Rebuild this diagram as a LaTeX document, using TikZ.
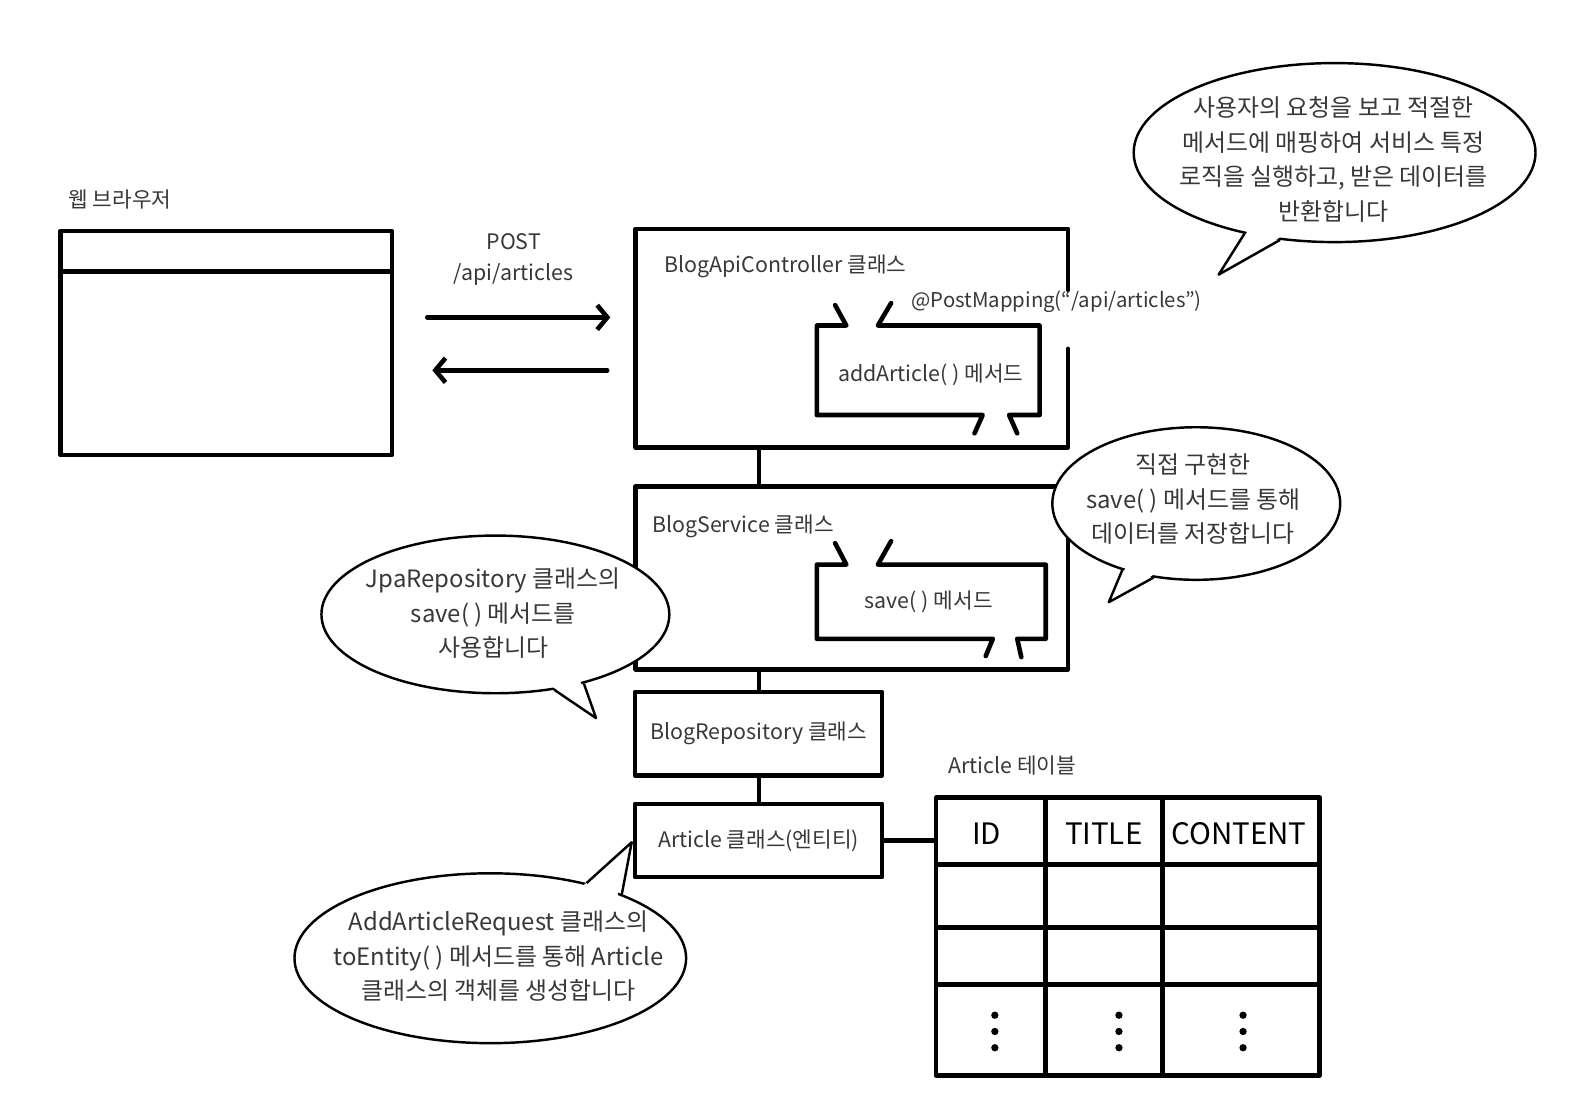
\documentclass[tikz,border=0pt]{standalone}
\usepackage{fontspec}
\setmainfont{Noto Sans CJK KR}
\usetikzlibrary{shapes.geometric,arrows.meta,calc}
\definecolor{txt}{HTML}{383838}
\begin{document}
\begin{tikzpicture}[x=1pt,y=-1pt,
  box/.style={draw, line width=4.5pt, line join=round, inner sep=0pt},
  frame/.style={inner sep=0pt, outer sep=0pt},
  thick line/.style={line width=4.5pt, line join=round, line cap=round},
  grid line/.style={line width=4.5pt},
  conn/.style={line width=4pt},
  arr/.style={line width=4.5pt, line cap=round, -{Straight Barb[length=10pt,width=24pt,line width=4.5pt]}},
  lbl/.style={text=txt, font=\fontsize{21}{25}\selectfont, inner sep=1pt},
  bub/.style={ellipse, draw, line width=2.4pt, fill=white, inner sep=0pt},
  bubtxt/.style={text=txt, align=center, font=\fontsize{23.5}{34}\selectfont, inner sep=0pt},
  hdr/.style={text=black, font=\fontsize{29}{32}\selectfont},
]
\useasboundingbox (0,0) rectangle (1568,1095);
\fill[white] (0,0) rectangle (1568,1095);

% web browser
\node[lbl, anchor=west] (browserlbl) at (66,196) {웹 브라우저};
\node[box, anchor=north west, minimum width=326, minimum height=220] (browser) at (57,225) {};
\draw[grid line] ($(browser.north west)+(0,42)$) -- ($(browser.north east)+(0,42)$);

% request / response arrows
\node[lbl, align=center, font=\fontsize{21}{30}\selectfont] (postlbl) at (505,255) {POST\\/api/articles};
\coordinate (reqS) at (420,312);
\coordinate (reqE) at (600,312);
\coordinate (resS) at (597,364);
\coordinate (resE) at (425,364);
\draw[arr] (reqS) -- (reqE);
\draw[arr] (resS) -- (resE);

% controller
\node[frame, anchor=north west, minimum width=425, minimum height=215] (ctrl) at (625,225) {};
\draw[thick line] ($(ctrl.north east)+(0,60)$) -- (ctrl.north east) -- (ctrl.north west) -- (ctrl.south west) -- (ctrl.south east) -- ($(ctrl.north east)+(0,118)$);
\node[lbl, anchor=west] (ctrllbl) at (652,262) {BlogApiController 클래스};
\node[lbl, anchor=west, font=\fontsize{20}{24}\selectfont] (postmap) at (895,297) {@PostMapping(``/api/articles'')};

% addArticle method box
\node[frame, anchor=north west, minimum width=219, minimum height=88] (addm) at (803,320) {};
\draw[thick line] (821,300) -- (832,320) -- (addm.north west) -- (addm.south west) -- (966,408) -- (958,426);
\draw[thick line] (876,298) -- (863,320) -- (addm.north east) -- (addm.south east) -- (992,408) -- (1000,426);
\node[lbl] (addmlbl) at (915,368) {addArticle( ) 메서드};

% service
\node[frame, anchor=north west, minimum width=425, minimum height=180] (svc) at (625,478) {};
\draw[thick line] (svc.north west) rectangle (svc.south east);
\node[lbl, anchor=west] (svclbl) at (640,517) {BlogService 클래스};

% save method box
\node[frame, anchor=north west, minimum width=225, minimum height=73] (savem) at (803,555) {};
\draw[thick line] (821,534) -- (832,555) -- (savem.north west) -- (savem.south west) -- (976,628) -- (969,645);
\draw[thick line] (876,532) -- (863,555) -- (savem.north east) -- (savem.south east) -- (1000,628) -- (1004,646);
\node[lbl] (savemlbl) at (913,592) {save( ) 메서드};

% repository
\node[box, anchor=north west, minimum width=243, minimum height=82] (repo) at (622,678) {};
\node[lbl] (repolbl) at (repo.center) {BlogRepository 클래스};

% article
\node[box, anchor=north west, minimum width=243, minimum height=72] (art) at (622,788) {};
\node[lbl] (artlbl) at (art.center) {Article 클래스(엔티티)};

% connectors
\draw[conn] (repo.north |- ctrl.south) -- (repo.north |- svc.north);
\draw[conn] (repo.north |- svc.south) -- (repo.north);
\draw[conn] (repo.south) -- (art.north);

% table
\node[lbl, anchor=west] (tbllbl) at (931,753) {Article 테이블};
\node[box, anchor=north west, minimum width=377, minimum height=273] (tbl) at (918,782) {};
\draw[conn] (art.east) -- (art.east -| tbl.west);
\draw[grid line] (1028,782) -- (1028,1055);
\draw[grid line] (1143,782) -- (1143,1055);
\draw[grid line] (918,850) -- (1295,850);
\draw[grid line] (918,912) -- (1295,912);
\draw[grid line] (918,968) -- (1295,968);
\node[hdr] (hid) at (970,820) {ID};
\node[hdr] (htitle) at (1085,820) {TITLE};
\node[hdr] (hcontent) at (1218,820) {CONTENT};
\foreach \x in {978,1100,1222}{
  \foreach \y in {998,1014,1030}{
    \fill (\x,\y) circle (3.6pt);
  }
}

% bubble 1 (controller)
\node[bub, minimum width=395, minimum height=176] (b1) at (1312,150) {};
\coordinate (t1) at (1198,270);
\fill[white] ($(b1.222)!5pt!(b1.center)$) -- (t1) -- ($(b1.238)!5pt!(b1.center)$) -- cycle;
\draw[line width=2.4pt, line join=round] (b1.222) -- (t1) -- (b1.238);
\node[bubtxt] (b1t) at (1311,157) {사용자의 요청을 보고 적절한\\메서드에 매핑하여 서비스 특정\\로직을 실행하고, 받은 데이터를\\반환합니다};

% bubble 2 (service)
\node[bub, minimum width=283, minimum height=150] (b2) at (1176,495) {};
\coordinate (t2) at (1090,592);
\fill[white] ($(b2.222)!5pt!(b2.center)$) -- (t2) -- ($(b2.240)!5pt!(b2.center)$) -- cycle;
\draw[line width=2.4pt, line join=round] (b2.222) -- (t2) -- (b2.240);
\node[bubtxt] (b2t) at (1173,491) {직접 구현한\\save( ) 메서드를 통해\\데이터를 저장합니다};

% bubble 3 (repository)
\node[bub, minimum width=342, minimum height=155] (b3) at (487,604) {};
\coordinate (t3) at (586,706);
\fill[white] ($(b3.-52)!5pt!(b3.center)$) -- (t3) -- ($(b3.-38)!5pt!(b3.center)$) -- cycle;
\draw[line width=2.4pt, line join=round] (b3.-52) -- (t3) -- (b3.-38);
\node[bubtxt] (b3t) at (485,603) {JpaRepository 클래스의\\save( ) 메서드를\\사용합니다};

% bubble 4 (article)
\node[bub, minimum width=385, minimum height=167] (b4) at (482,942) {};
\coordinate (t4) at (621,828);
\fill[white] ($(b4.38)!5pt!(b4.center)$) -- (t4) -- ($(b4.26)!5pt!(b4.center)$) -- cycle;
\draw[line width=2.4pt, line join=round] (b4.38) -- (t4) -- (b4.26);
\node[bubtxt] (b4t) at (490,940) {AddArticleRequest 클래스의\\toEntity( ) 메서드를 통해 Article\\클래스의 객체를 생성합니다};
\end{tikzpicture}
\end{document}
